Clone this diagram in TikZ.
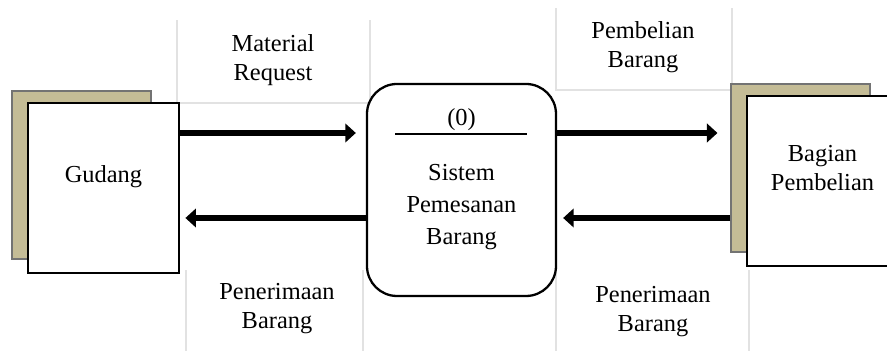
\documentclass[tikz,border=0pt]{standalone}
\usepackage{fontspec}
\setmainfont{Liberation Serif}
\usetikzlibrary{arrows.meta, positioning, calc}
\definecolor{khaki}{RGB}{196,188,150}
\definecolor{cellgray}{RGB}{226,226,226}

\begin{document}
\begin{tikzpicture}[
    ext/.style={draw=black,line width=1.6pt,fill=white,
                minimum width=3.02cm, minimum height=3.4cm,inner sep=0pt},
    shd/.style={draw=black!55,line width=0.6pt,fill=khaki,
                minimum width=2.78cm, minimum height=3.36cm,inner sep=0pt},
    proc/.style={draw=black,line width=1.3pt,rounded corners=0.6cm,
                 minimum width=3.78cm, minimum height=4.24cm,inner sep=0pt},
    flow/.style={-{Triangle[length=6pt,width=10.5pt]},line width=3.8pt},
    lb/.style={align=center,font=\fontsize{13.9}{16.5}\selectfont},
    cell/.style={cellgray,line width=0.6pt}
  ]
    \useasboundingbox (0,0) rectangle (17.74,7.02);

    %% Table cells behind the labels ──────────
    \draw[cell] (3.54,6.62) -- (3.54,4.96) -- (7.40,4.96) -- (7.40,6.62);
    \draw[cell] (11.12,6.86) -- (11.12,5.22) -- (14.64,5.22) -- (14.64,6.86);
    \draw[cell] (3.72,1.62) -- (3.72,0);
    \draw[cell] (7.26,1.62) -- (7.26,0);
    \draw[cell] (11.12,1.56) -- (11.12,0);
    \draw[cell] (14.98,1.62) -- (14.98,0);

    %% Gudang ─────────────────────────────────
    \node[shd] (Gs) at (1.63,3.52) {};
    \node[ext] (G)  at (2.07,3.26) {};
    \node[lb]  (Gt) at (2.07,3.48) {Gudang};

    %% Process ────────────────────────────────
    \node[proc] (P) at (9.23,3.22) {};
    \node[lb] (Pid) at (9.23,4.62) {(0)};
    \draw[line width=0.8pt] (7.90,4.34) -- (10.54,4.34);
    \node[lb, font=\fontsize{13.9}{18.2}\selectfont] (Pt) at (9.23,2.87)
          {Sistem\\Pemesanan\\Barang};

    %% Bagian Pembelian ───────────────────────
    \node[shd] (Bs) at (16.01,3.66) {};
    \node[ext] (B)  at (16.45,3.40) {};
    \node[lb]  (Bt) at (16.45,3.65) {Bagian\\Pembelian};

    %% Flows ──────────────────────────────────
    \coordinate (fU) at (0,4.36);
    \coordinate (fD) at (0,2.66);
    \draw[flow] (G.east |- fU) -- ([xshift=-2mm]P.west |- fU);
    \draw[flow] (P.west |- fD) -- ([xshift=1mm]G.east |- fD);
    \draw[flow] (P.east |- fU) -- ([xshift=-2.6mm]Bs.west |- fU);
    \draw[flow] (Bs.west |- fD) -- ([xshift=1.2mm]P.east |- fD);

    \node[lb] (lMR) at (5.46,5.82) {Material\\Request};
    \node[lb] (lPB) at (12.86,6.07) {Pembelian\\Barang};
    \node[lb] (lRG) at (5.54,0.84) {Penerimaan\\Barang};
    \node[lb] (lRB) at (13.06,0.79) {Penerimaan\\Barang};

  \end{tikzpicture}
\end{document}
